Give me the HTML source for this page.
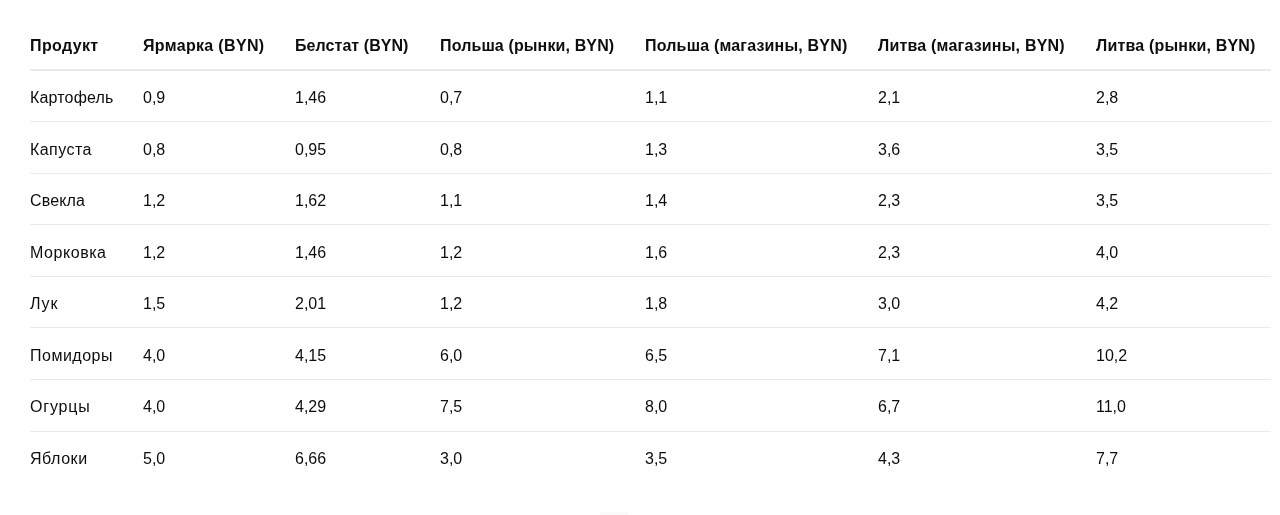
<!DOCTYPE html>
<html lang="ru">
<head>
<meta charset="utf-8">
<title>Таблица цен</title>
<style>
html,body{margin:0;padding:0;background:#fff;}
body{width:1280px;height:515px;overflow:hidden;position:relative;
  font-family:"Liberation Sans",Arial,sans-serif;font-size:16px;color:#0d0d0d;}
table{will-change:transform;position:absolute;left:30px;top:0;border-collapse:collapse;table-layout:fixed;width:1241px;}
th,td{padding:0;text-align:left;vertical-align:top;white-space:nowrap;}
th{font-weight:bold;height:68.5px;}
th div{padding-top:36px;line-height:20px;}
td div{line-height:20px;padding-top:17.5px;}
thead tr{border-bottom:2px solid #eaeaea;}
tbody tr{border-bottom:1px solid #ebebeb;}
tbody tr:last-child{border-bottom:none;}
tbody td{height:50.59px;}
</style>
</head>
<body>
<table>
<colgroup>
<col style="width:113px"><col style="width:152px"><col style="width:145px"><col style="width:205px"><col style="width:233px"><col style="width:218px"><col style="width:175px">
</colgroup>
<thead>
<tr><th><div style="letter-spacing:0.38px">Продукт</div></th><th><div style="letter-spacing:0.33px">Ярмарка (BYN)</div></th><th><div style="letter-spacing:0.06px">Белстат (BYN)</div></th><th><div style="letter-spacing:0.13px">Польша (рынки, BYN)</div></th><th><div style="letter-spacing:0.19px">Польша (магазины, BYN)</div></th><th><div style="letter-spacing:0.2px">Литва (магазины, BYN)</div></th><th><div style="letter-spacing:0.19px">Литва (рынки, BYN)</div></th></tr>
</thead>
<tbody>
<tr><td><div style="letter-spacing:0.17px">Картофель</div></td><td><div>0,9</div></td><td><div>1,46</div></td><td><div>0,7</div></td><td><div>1,1</div></td><td><div>2,1</div></td><td><div>2,8</div></td></tr>
<tr><td><div style="letter-spacing:0.45px">Капуста</div></td><td><div>0,8</div></td><td><div>0,95</div></td><td><div>0,8</div></td><td><div>1,3</div></td><td><div>3,6</div></td><td><div>3,5</div></td></tr>
<tr><td><div style="letter-spacing:0.15px">Свекла</div></td><td><div>1,2</div></td><td><div>1,62</div></td><td><div>1,1</div></td><td><div>1,4</div></td><td><div>2,3</div></td><td><div>3,5</div></td></tr>
<tr><td><div style="letter-spacing:0.55px">Морковка</div></td><td><div>1,2</div></td><td><div>1,46</div></td><td><div>1,2</div></td><td><div>1,6</div></td><td><div>2,3</div></td><td><div>4,0</div></td></tr>
<tr><td><div style="letter-spacing:0.9px">Лук</div></td><td><div>1,5</div></td><td><div>2,01</div></td><td><div>1,2</div></td><td><div>1,8</div></td><td><div>3,0</div></td><td><div>4,2</div></td></tr>
<tr><td><div style="letter-spacing:0.5px">Помидоры</div></td><td><div>4,0</div></td><td><div>4,15</div></td><td><div>6,0</div></td><td><div>6,5</div></td><td><div>7,1</div></td><td><div>10,2</div></td></tr>
<tr><td><div style="letter-spacing:0.8px">Огурцы</div></td><td><div>4,0</div></td><td><div>4,29</div></td><td><div>7,5</div></td><td><div>8,0</div></td><td><div>6,7</div></td><td><div>11,0</div></td></tr>
<tr><td><div style="letter-spacing:0.55px">Яблоки</div></td><td><div>5,0</div></td><td><div>6,66</div></td><td><div>3,0</div></td><td><div>3,5</div></td><td><div>4,3</div></td><td><div>7,7</div></td></tr>
</tbody>
</table>
<div style="position:absolute;left:600px;top:512px;width:28px;height:3px;background:#fafafa;border-radius:2px 2px 0 0;"></div>
</body>
</html>
